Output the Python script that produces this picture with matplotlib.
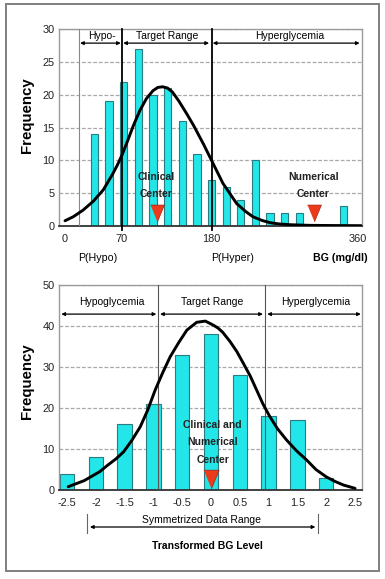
import matplotlib
matplotlib.use('Agg')
import matplotlib.pyplot as plt
from matplotlib.patches import Rectangle, FancyArrowPatch
from matplotlib.lines import Line2D

plt.rcParams['font.family'] = ['Liberation Sans', 'DejaVu Sans']

# ---------------- data: top panel (raw BG) ----------------
bg_bins = [36, 54, 72, 90, 108, 126, 144, 162, 180, 198, 216, 234, 252, 270, 288, 306, 324, 342]
bg_freq = [14, 19, 22, 27, 20, 21, 16, 11, 7, 6, 4, 10, 2, 2, 2, 0, 0, 3]
bg_curve_x = [0, 10, 22, 35, 47, 58, 64, 70, 77, 84, 92, 100, 108, 114, 120, 126, 132, 140,
              150, 158, 170, 180, 194, 211, 222, 231, 242, 252, 264, 276, 300, 330, 364]
bg_curve_y = [0.8, 1.4, 2.4, 3.8, 5.5, 7.8, 9.2, 10.8, 13.0, 15.3, 17.6, 19.4, 20.6, 21.1,
              21.2, 21.0, 20.4, 19.0, 17.0, 15.3, 12.5, 10.0, 6.5, 3.4, 2.2, 1.4, 0.85, 0.5,
              0.3, 0.2, 0.1, 0.07, 0.05]
bg_xticks = [0, 70, 180, 360]
bg_yticks = [0, 5, 10, 15, 20, 25, 30]
bg_bounds = [17, 70, 180]
bg_regions = ["Hypo-", "Target Range", "Hyperglycemia"]
clinical_center = 113
numerical_center = 306

# ---------------- data: bottom panel (transformed BG) ----------------
tr_bins = [-2.5, -2, -1.5, -1, -0.5, 0, 0.5, 1, 1.5, 2]
tr_freq = [4, 8, 16, 21, 33, 38, 28, 18, 17, 3]
tr_curve_x = [-2.48, -2.2, -1.93, -1.8, -1.65, -1.52, -1.38, -1.23, -1.1, -0.97, -0.84, -0.71,
              -0.56, -0.42, -0.25, -0.1, 0.04, 0.12, 0.2, 0.33, 0.45, 0.56, 0.68, 0.79, 0.9,
              1.02, 1.15, 1.31, 1.48, 1.66, 1.82, 2.0, 2.15, 2.3, 2.5]
tr_curve_y = [0.8, 2.3, 4.5, 6.0, 7.6, 9.3, 12.0, 15.4, 19.5, 24.4, 28.6, 32.5,
              36.0, 39.0, 40.9, 41.2, 40.2, 39.5, 38.5, 36.2, 33.7, 30.9, 27.8, 24.4, 21.0,
              17.9, 15.0, 12.2, 9.6, 7.3, 5.0, 3.2, 2.1, 1.2, 0.4]
tr_xticks = [-2.5, -2, -1.5, -1, -0.5, 0, 0.5, 1, 1.5, 2, 2.5]
tr_xticklabels = ["-2.5", "-2", "-1.5", "-1", "-0.5", "0", "0.5", "1", "1.5", "2", "2.5"]
tr_yticks = [0, 10, 20, 30, 40, 50]
tr_bounds = [-0.92, 0.94]
tr_regions = ["Hypoglycemia", "Target Range", "Hyperglycemia"]
tr_center = 0
sym_range = [-2.15, 1.86]

W, H = 385, 579
fig = plt.figure(figsize=(W / 100, H / 100), dpi=100)
fig.patch.set_facecolor('white')

def fx(px):
    return px / W

def fy(py):
    return 1 - py / H

BAR_FC = '#22E6E8'
BAR_EC = '#2A7C80'
TRI_FC = '#EC3B1C'
TRI_EC = '#8a1a0a'
GRID_C = '#a8a8a8'
FRAME_C = '#9a9a9a'
FS = 7.5
tri_marker = [(-0.82, 1), (0.82, 1), (0, -1)]

def style_axes(ax):
    for s in ['top', 'right', 'left']:
        ax.spines[s].set_color(FRAME_C)
        ax.spines[s].set_linewidth(1.0)
    ax.spines['bottom'].set_color('#333333')
    ax.spines['bottom'].set_linewidth(1.3)
    ax.tick_params(axis='y', length=0, pad=3, labelsize=FS + 0.4, colors='#222222')
    ax.tick_params(axis='x', length=0, pad=5.8, labelsize=FS + 0.4, colors='#222222')
    ax.set_axisbelow(True)
    ax.yaxis.grid(True, linestyle=(0, (3, 1.5)), color=GRID_C, linewidth=0.9)

def region_arrow(ax, x1, x2, y):
    ax.annotate('', xy=(x2, y), xytext=(x1, y),
                arrowprops=dict(arrowstyle='<|-|>', color='black', lw=0.9,
                                mutation_scale=5, shrinkA=0, shrinkB=0))

# ---------------- top panel ----------------
ax1 = fig.add_axes([fx(59), fy(226), fx(303), 197 / H])
ax1.set_xlim(-7.4, 364.9)
ax1.set_ylim(0, 30)
style_axes(ax1)
ax1.bar(bg_bins, bg_freq, width=9, color=BAR_FC, edgecolor=BAR_EC, linewidth=0.8, zorder=2)
ax1.axvline(bg_bounds[0], color='#888888', lw=0.8, zorder=3)
for b in bg_bounds[1:]:
    ax1.plot([b, b], [-0.6, 30], color='black', lw=1.3, zorder=3, clip_on=False)
ax1.plot(bg_curve_x, bg_curve_y, color='black', lw=2.1, zorder=4,
         solid_capstyle='round', solid_joinstyle='round')
ax1.set_xticks(bg_xticks)
ax1.set_yticks(bg_yticks)

hdr_y_txt, hdr_y_arr = 28.9, 27.85
region_arrow(ax1, bg_bounds[0] + 1.5, bg_bounds[1] - 1.5, hdr_y_arr)
region_arrow(ax1, bg_bounds[1] + 1.5, bg_bounds[2] - 3, hdr_y_arr)
region_arrow(ax1, bg_bounds[2] + 1.5, 362, hdr_y_arr)
ax1.text(45.5, hdr_y_txt, bg_regions[0], ha='center', va='center', fontsize=FS, zorder=5)
ax1.text(125, hdr_y_txt, bg_regions[1], ha='center', va='center', fontsize=FS, zorder=5)
ax1.text(276, hdr_y_txt, bg_regions[2], ha='center', va='center', fontsize=FS, zorder=5)

for cx in [clinical_center, numerical_center]:
    ax1.plot([cx], [1.95], marker=tri_marker, markersize=12.2, color=TRI_FC,
             markeredgecolor=TRI_EC, markeredgewidth=0.4, linestyle='none', zorder=6)
for tx, lines in [(112, ["Clinical", "Center"]), (305, ["Numerical", "Center"])]:
    ax1.text(tx, 7.5, lines[0], ha='center', va='center', fontsize=FS, fontweight='bold',
             color='#222222', zorder=6)
    ax1.text(tx, 4.9, lines[1], ha='center', va='center', fontsize=FS, fontweight='bold',
             color='#222222', zorder=6)

fig.text(fx(98), fy(258), "P(Hypo)", ha='center', va='center', fontsize=FS + 0.2)
fig.text(fx(233), fy(258), "P(Hyper)", ha='center', va='center', fontsize=FS + 0.2)
fig.text(fx(368), fy(258), "BG (mg/dl)", ha='right', va='center', fontsize=FS + 0.2,
         fontweight='bold')
fig.text(fx(27), fy(115), "Frequency", rotation=90, ha='center', va='center',
         fontsize=10.8, fontweight='bold')

# ---------------- bottom panel ----------------
ax2 = fig.add_axes([fx(59), fy(490), fx(303), 205 / H])
ax2.set_xlim(-2.64, 2.62)
ax2.set_ylim(0, 50)
style_axes(ax2)
ax2.bar(tr_bins, tr_freq, width=0.25, color=BAR_FC, edgecolor=BAR_EC, linewidth=0.8, zorder=2)
for b in tr_bounds:
    ax2.axvline(b, color='#555555', lw=0.8, zorder=3)
ax2.plot(tr_curve_x, tr_curve_y, color='black', lw=2.1, zorder=4,
         solid_capstyle='round', solid_joinstyle='round')
ax2.set_xticks(tr_xticks)
ax2.set_xticklabels(tr_xticklabels)
ax2.set_yticks(tr_yticks)

hdr2_txt, hdr2_arr = 45.9, 42.9
region_arrow(ax2, -2.6, tr_bounds[0] - 0.03, hdr2_arr)
region_arrow(ax2, tr_bounds[0] + 0.035, tr_bounds[1] - 0.04, hdr2_arr)
region_arrow(ax2, tr_bounds[1] + 0.035, 2.6, hdr2_arr)
ax2.text(-1.72, hdr2_txt, tr_regions[0], ha='center', va='center', fontsize=FS, zorder=5)
ax2.text(0.02, hdr2_txt, tr_regions[1], ha='center', va='center', fontsize=FS, zorder=5)
ax2.text(1.81, hdr2_txt, tr_regions[2], ha='center', va='center', fontsize=FS, zorder=5)

ax2.plot([tr_center], [2.6], marker=tri_marker, markersize=13.5, color=TRI_FC,
         markeredgecolor=TRI_EC, markeredgewidth=0.4, linestyle='none', zorder=6)
for ty, t in [(15.9, "Clinical and"), (11.6, "Numerical"), (7.4, "Center")]:
    ax2.text(0.03, ty, t, ha='center', va='center', fontsize=FS, fontweight='bold',
             color='#222222', zorder=6)

fig.text(fx(202), fy(520), "Symmetrized Data Range", ha='center', va='center', fontsize=FS)
x1p = 211 + 57.6 * sym_range[0]
x2p = 211 + 57.6 * sym_range[1]
for xp in (x1p, x2p):
    fig.add_artist(Line2D([fx(xp), fx(xp)], [fy(514), fy(533)], color='#666666', lw=0.8,
                          transform=fig.transFigure))
fig.add_artist(FancyArrowPatch((fx(x1p), fy(527)), (fx(x2p), fy(527)),
                               arrowstyle='<|-|>', mutation_scale=5,
                               color='black', lw=0.9, transform=fig.transFigure))
fig.text(fx(207), fy(546), "Transformed BG Level", ha='center', va='center', fontsize=FS,
         fontweight='bold')
fig.text(fx(27), fy(381), "Frequency", rotation=90, ha='center', va='center',
         fontsize=10.8, fontweight='bold')

fig.add_artist(Rectangle((fx(6), fy(571)), fx(373), 567 / H, fill=False, ec='#7f7f7f',
                         lw=1.4, transform=fig.transFigure))

fig.savefig('out.png', dpi=100, facecolor='white')
